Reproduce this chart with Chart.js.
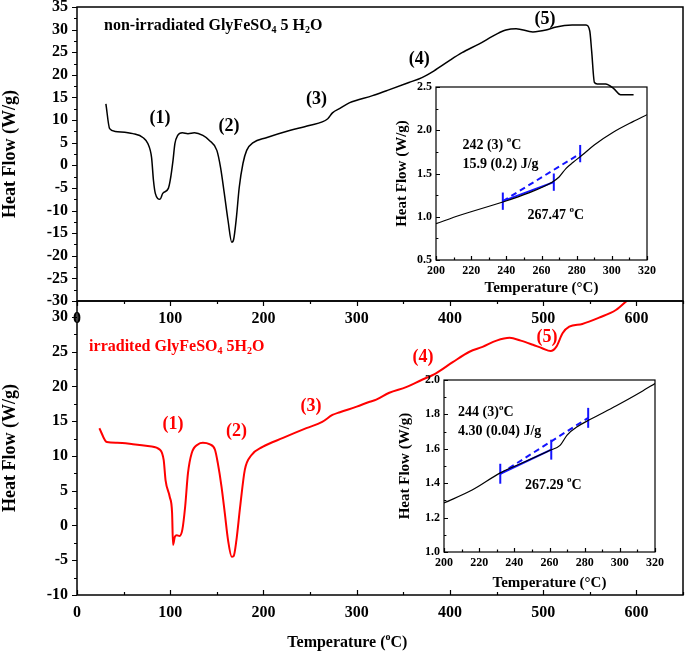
<!DOCTYPE html>
<html>
<head>
<meta charset="utf-8">
<script src="https://cdn.jsdelivr.net/npm/chart.js@4.4.1/dist/chart.umd.min.js"></script>
<style>
html, body { margin: 0; padding: 0; background: #fff; }
#wrap { position: relative; width: 685px; height: 655px; overflow: hidden; }
canvas { position: absolute; }
</style>
</head>
<body>
<div id="wrap">
  <canvas id="botMain" width="685" height="655" style="left:0;top:0"></canvas>
  <canvas id="topMain" width="685" height="340" style="left:0;top:0"></canvas>
  <canvas id="topInset" width="277" height="220" style="left:388px;top:80px"></canvas>
  <canvas id="botInset" width="280" height="225" style="left:393px;top:372px"></canvas>
</div>
<script>
// non-irradiated sample, full DSC run
const topTemp = [31, 35, 41, 60, 71, 76, 80, 82, 84, 89, 92, 98, 100, 103, 105, 108, 113, 119, 126, 135,
  142, 150, 154, 158, 162, 166, 168, 171, 174, 178, 182, 189, 203, 228, 249, 269, 274, 282, 292, 317,
  332, 356, 370, 383, 399, 413, 431, 450, 460, 471, 489, 503, 514, 531, 546, 550, 552, 555, 558, 567,
  576, 583, 597];
const topHeat = [13.6, 8.1, 7.5, 7.0, 6.1, 4.8, 1.7, -3.3, -6.2, -7.5, -6.2, -5.1, -3.3, 1.1, 4.8, 6.6, 7.2, 7.0, 7.2, 6.6,
  5.5, 3.3, -0.5, -6.2, -12.2, -17.0, -16.4, -11.5, -4.9, 0.4, 3.3, 5.0, 6.1, 7.7, 8.8, 10.3, 11.6, 12.6, 13.8, 15.4,
  16.5, 18.3, 19.4, 20.9, 23.1, 24.9, 26.8, 29.0, 29.9, 30.2, 29.5, 29.9, 30.6, 31.0, 31.0, 29.7, 25.3, 18.3, 18.0, 18.0,
  16.9, 15.6, 15.6];

// irradiated sample
const botTemp = [24, 32, 43, 60, 78, 89, 93, 95, 99.5, 102, 103, 105, 107, 110, 113, 116, 119, 123, 130, 135,
  142, 148, 151, 155, 158.5, 162, 166, 168, 171, 175, 180, 187, 199, 221, 246, 263, 274, 282, 300, 314,
  321, 335, 353, 369, 385, 403, 421, 435, 450, 464, 476, 489, 499, 508, 514, 521, 528, 542, 560, 578, 592];
const botHeat = [14.0, 12.0, 11.9, 11.7, 11.4, 10.9, 9.4, 6.5, 4.1, 1.8, -2.8, -1.6, -1.4, -1.5, -0.6, 2.7, 7.5, 10.4, 11.7, 11.9,
  11.7, 10.9, 9.0, 5.6, 1.8, -2.1, -4.5, -4.4, -2.1, 2.7, 8.0, 10.1, 11.3, 12.6, 14.0, 14.9, 15.9, 16.3, 17.1, 17.8,
  18.1, 19.1, 19.9, 20.9, 21.9, 23.5, 25.0, 25.7, 26.6, 27.0, 26.6, 26.0, 25.5, 25.1, 25.7, 27.7, 28.6, 29.0, 29.9, 31.0, 32.6];

// insets: glass transition region
const topInsetTemp = [200, 214, 238, 252, 266, 270, 274, 278, 283, 290, 301, 312, 320];
const topInsetHeat = [0.92, 1.02, 1.17, 1.27, 1.40, 1.46, 1.56, 1.63, 1.71, 1.83, 1.98, 2.10, 2.18];
const botInsetTemp = [200, 216, 232, 245, 260, 266, 270, 276, 283, 298, 312, 320];
const botInsetHeat = [1.285, 1.36, 1.46, 1.52, 1.59, 1.62, 1.68, 1.73, 1.77, 1.85, 1.93, 1.98];

// onset / midpoint / end markers
const topMarkTemp = [238, 267, 282];
const topMarkHeat = [1.18, 1.40, 1.73];
const topMarkHalf = 0.1;
const botMarkTemp = [232, 261, 282];
const botMarkHeat = [1.455, 1.595, 1.78];
const botMarkHalf = 0.058;

const peakLabels = ['(1)', '(2)', '(3)', '(4)', '(5)'];
const topPeakTemp = [89, 163, 257, 367, 502];
const topPeakHeat = [10.4, 8.6, 14.6, 23.4, 32.2];
const botPeakTemp = [103, 171, 251, 371, 504];
const botPeakHeat = [14.5, 13.6, 17.1, 24.2, 27.0];

const FONT = '"Liberation Serif", "Times New Roman", serif';
const BLUE = 'rgb(20,20,255)';
const RED = '#ff0000';

Chart.defaults.font.family = FONT;
Chart.defaults.font.weight = 'bold';
Chart.defaults.color = '#000';

function pts(xs, ys) { return xs.map((x, i) => ({ x: x, y: ys[i] })); }
function onStep(v, step) { return Math.abs(v / step - Math.round(v / step)) < 1e-6; }

function richText(ctx, x, y, parts, size, color, align) {
  ctx.save();
  ctx.fillStyle = color;
  ctx.textBaseline = 'middle';
  ctx.textAlign = 'left';
  const fontFor = k => 'bold ' + (k ? Math.round(size * 0.62) : size) + 'px ' + FONT;
  let total = 0;
  parts.forEach(p => { ctx.font = fontFor(p[1]); total += ctx.measureText(p[0]).width; });
  let cx = align === 'center' ? x - total / 2 : x;
  parts.forEach(p => {
    ctx.font = fontFor(p[1]);
    const dy = p[1] === 'sub' ? size * 0.3 : p[1] === 'sup' ? -size * 0.35 : 0;
    ctx.fillText(p[0], cx, y + dy);
    cx += ctx.measureText(p[0]).width;
  });
  ctx.restore();
}

function notesPlugin(notes) {
  return {
    id: 'notes',
    afterDraw(chart) {
      const xs = chart.scales.x, ys = chart.scales.y;
      notes.forEach(n => {
        const py = n.dy !== undefined ? chart.chartArea.bottom + n.dy : ys.getPixelForValue(n.y);
        richText(chart.ctx, xs.getPixelForValue(n.x), py, n.parts, n.size, n.color || '#000', n.align);
      });
    }
  };
}

function drawTicks(ctx, scale, t, a, axis) {
  const n = Math.round((scale.max - t.from) / t.minor);
  ctx.beginPath();
  for (let i = 0; i <= n; i++) {
    const v = t.from + i * t.minor;
    if (v > scale.max + 1e-9) break;
    const len = (onStep(v, t.major) ? t.len : t.len * 0.6) * (t.dir === 'in' ? -1 : 1);
    const p = Math.round(scale.getPixelForValue(v)) + 0.5;
    if (axis === 'x') { ctx.moveTo(p, a.bottom); ctx.lineTo(p, a.bottom + len); }
    else { ctx.moveTo(a.left, p); ctx.lineTo(a.left - len, p); }
  }
  ctx.stroke();
}

function framePlugin(cfg) {
  return {
    id: 'frame',
    afterDraw(chart) {
      const ctx = chart.ctx, a = chart.chartArea;
      ctx.save();
      ctx.strokeStyle = '#000';
      ctx.lineWidth = cfg.lw;
      ctx.strokeRect(a.left, a.top, a.right - a.left, a.bottom - a.top);
      ctx.lineWidth = 1.2;
      drawTicks(ctx, chart.scales.x, cfg.x, a, 'x');
      drawTicks(ctx, chart.scales.y, cfg.y, a, 'y');
      ctx.restore();
    }
  };
}

function axes(o) {
  return {
    x: {
      type: 'linear', min: o.xmin, max: o.xmax,
      grid: { display: false, drawTicks: false },
      border: { display: false },
      ticks: { stepSize: o.xstep, padding: o.xpad, maxRotation: 0, autoSkip: false, includeBounds: false,
        font: { size: o.tick, weight: 'bold' }, callback: v => String(v) },
      afterBuildTicks: s => { s.ticks = s.ticks.filter(t => onStep(t.value, o.xstep)); },
      afterFit: s => { s.height = o.xh; s.paddingLeft = 0; s.paddingRight = 0; },
      title: o.xtitle ? { display: true, text: o.xtitle, font: { size: o.title, weight: 'bold' },
        padding: { top: 0, bottom: o.xtpad } } : { display: false }
    },
    y: {
      type: 'linear', min: o.ymin, max: o.ymax,
      grid: { display: false, drawTicks: false },
      border: { display: false },
      ticks: { stepSize: o.ystep, padding: o.ypad, autoSkip: false, includeBounds: false,
        font: { size: o.tick, weight: 'bold' }, callback: v => Number(v).toFixed(o.ydec) },
      afterBuildTicks: s => { s.ticks = s.ticks.filter(t => onStep(t.value, o.ystep)); },
      afterFit: s => { s.width = o.yw; s.paddingTop = 0; s.paddingBottom = 0; },
      title: { display: true, text: 'Heat Flow (W/g)', font: { size: o.ytsize, weight: 'bold' },
        padding: { top: o.ytpad, bottom: 0 } }
    }
  };
}

function curve(xs, ys, color, width) {
  return { data: pts(xs, ys), borderColor: color, borderWidth: width, pointRadius: 0,
    cubicInterpolationMode: 'monotone', fill: false };
}

function markSets(ts, hs, half) {
  const sets = [];
  ts.forEach((t, i) => {
    sets.push({ data: [{ x: t, y: hs[i] - half }, { x: t, y: hs[i] + half }],
      borderColor: BLUE, borderWidth: 2, pointRadius: 0 });
  });
  sets.push({ data: [{ x: ts[0], y: hs[0] }, { x: ts[1], y: hs[1] }],
    borderColor: BLUE, borderWidth: 2, pointRadius: 0 });
  sets.push({ data: [{ x: ts[0], y: hs[0] }, { x: ts[2], y: hs[2] }],
    borderColor: BLUE, borderWidth: 2, borderDash: [6, 4], pointRadius: 0 });
  return sets;
}

function peakNotes(ts, hs, color) {
  return peakLabels.map((l, i) => ({ x: ts[i], y: hs[i], parts: [[l, '']], size: 18, color: color, align: 'center' }));
}

const baseOpts = { responsive: false, animation: false, devicePixelRatio: 1,
  plugins: { legend: { display: false }, tooltip: { enabled: false } } };

// bottom main panel (irradiated)
new Chart(document.getElementById('botMain'), {
  type: 'line',
  data: { datasets: [curve(botTemp, botHeat, RED, 2)] },
  options: Object.assign({}, baseOpts, {
    layout: { padding: { top: 301, right: 2, left: 0, bottom: 0 } },
    scales: axes({ xmin: 0, xmax: 650, xstep: 100, xpad: 8, xh: 60, ymin: -10, ymax: 32.3, ystep: 5, ypad: 9,
      ydec: 0, yw: 77, tick: 16, ytsize: 18, ytpad: 0 })
  }),
  plugins: [framePlugin({ lw: 1.5, x: { from: 0, minor: 50, major: 100, len: 5, dir: 'in' },
      y: { from: -10, minor: 2.5, major: 5, len: 5, dir: 'out' } }),
    notesPlugin(peakNotes(botPeakTemp, botPeakHeat, RED).concat([
      { x: 13, y: 25.7, size: 16, color: RED,
        parts: [['irradited GlyFeSO', ''], ['4', 'sub'], [' 5H', ''], ['2', 'sub'], ['O', '']] },
      { x: 290, dy: 48, size: 16, align: 'center', parts: [['Temperature (', ''], ['o', 'sup'], ['C)', '']] }
    ]))]
});

// top main panel (non-irradiated)
new Chart(document.getElementById('topMain'), {
  type: 'line',
  data: { datasets: [curve(topTemp, topHeat, '#000', 1.5)] },
  options: Object.assign({}, baseOpts, {
    layout: { padding: { top: 7, right: 2, left: 0, bottom: 0 } },
    scales: axes({ xmin: 0, xmax: 650, xstep: 100, xpad: 8, xh: 39, ymin: -30, ymax: 35, ystep: 5, ypad: 9,
      ydec: 0, yw: 77, tick: 16, ytsize: 18, ytpad: 0 })
  }),
  plugins: [framePlugin({ lw: 1.5, x: { from: 0, minor: 50, major: 100, len: 5, dir: 'out' },
      y: { from: -30, minor: 2.5, major: 5, len: 5, dir: 'out' } }),
    notesPlugin(peakNotes(topPeakTemp, topPeakHeat, '#000').concat([
      { x: 29, y: 30.9, size: 16,
        parts: [['non-irradiated GlyFeSO', ''], ['4', 'sub'], [' 5 H', ''], ['2', 'sub'], ['O', '']] }
    ]))]
});

// top inset
new Chart(document.getElementById('topInset'), {
  type: 'line',
  data: { datasets: [curve(topInsetTemp, topInsetHeat, '#000', 1.2)].concat(markSets(topMarkTemp, topMarkHeat, topMarkHalf)) },
  options: Object.assign({}, baseOpts, {
    layout: { padding: { top: 7, right: 18, left: 0, bottom: 0 } },
    scales: axes({ xmin: 200, xmax: 320, xstep: 20, xpad: 4, xh: 40, xtitle: 'Temperature (°C)', xtpad: 3,
      ymin: 0.5, ymax: 2.5, ystep: 0.5, ypad: 4, ydec: 1, yw: 48, tick: 12, title: 15, ytsize: 15, ytpad: 5 })
  }),
  plugins: [framePlugin({ lw: 1.2, x: { from: 200, minor: 10, major: 20, len: 4, dir: 'in' },
      y: { from: 0.5, minor: 0.25, major: 0.5, len: 4, dir: 'in' } }),
    notesPlugin([
      { x: 215, y: 1.83, size: 14, parts: [['242 (3) ', ''], ['o', 'sup'], ['C', '']] },
      { x: 215, y: 1.60, size: 14, parts: [['15.9 (0.2) J/g', '']] },
      { x: 252, y: 1.02, size: 14, parts: [['267.47 ', ''], ['o', 'sup'], ['C', '']] }
    ])]
});

// bottom inset
new Chart(document.getElementById('botInset'), {
  type: 'line',
  data: { datasets: [curve(botInsetTemp, botInsetHeat, '#000', 1.2)].concat(markSets(botMarkTemp, botMarkHeat, botMarkHalf)) },
  options: Object.assign({}, baseOpts, {
    layout: { padding: { top: 8, right: 18, left: 0, bottom: 0 } },
    scales: axes({ xmin: 200, xmax: 320, xstep: 20, xpad: 4, xh: 45, xtitle: 'Temperature (°C)', xtpad: 5,
      ymin: 1.0, ymax: 2.0, ystep: 0.2, ypad: 4, ydec: 1, yw: 51, tick: 12, title: 15, ytsize: 15, ytpad: 3 })
  }),
  plugins: [framePlugin({ lw: 1.2, x: { from: 200, minor: 10, major: 20, len: 4, dir: 'in' },
      y: { from: 1.0, minor: 0.1, major: 0.2, len: 4, dir: 'in' } }),
    notesPlugin([
      { x: 208, y: 1.81, size: 14, parts: [['244 (3)', ''], ['o', 'sup'], ['C', '']] },
      { x: 208, y: 1.70, size: 14, parts: [['4.30 (0.04) J/g', '']] },
      { x: 246, y: 1.39, size: 14, parts: [['267.29 ', ''], ['o', 'sup'], ['C', '']] }
    ])]
});
</script>
</body>
</html>
